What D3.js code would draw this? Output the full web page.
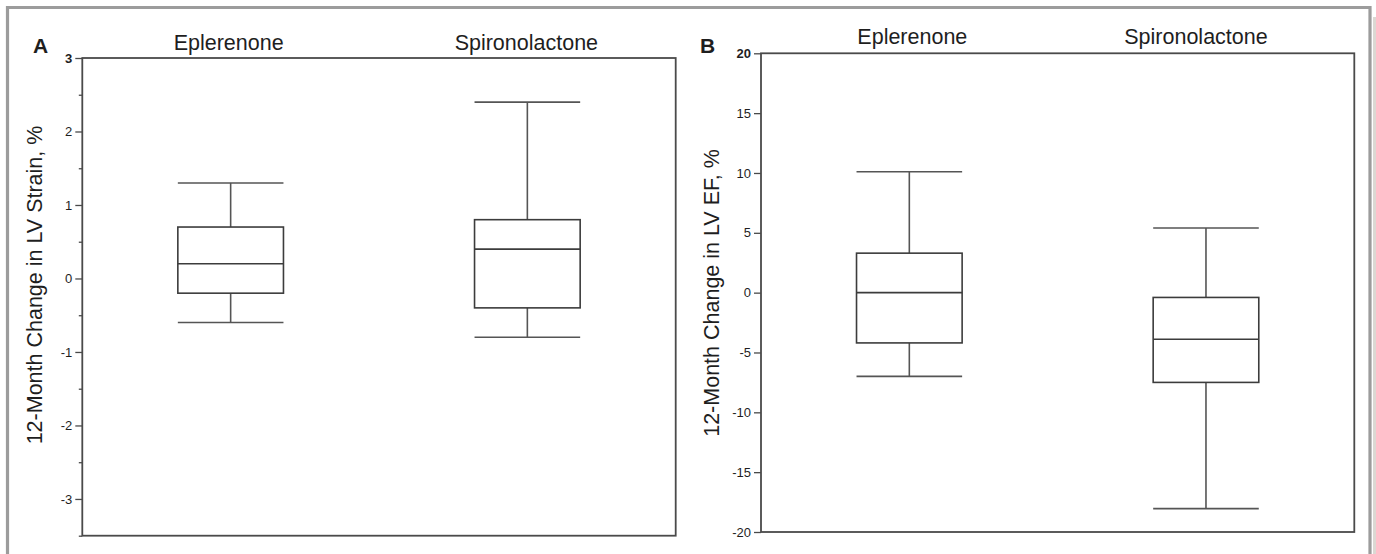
<!DOCTYPE html>
<html><head><meta charset="utf-8">
<script src="https://cdn.jsdelivr.net/npm/d3@7"></script>
<style>
body{margin:0;background:#fff;}
svg{display:block;font-family:"Liberation Sans",Arial,Helvetica,sans-serif;}
</style>
</head><body>
<svg id="c" width="1376" height="554"></svg>
<script>
// ---- data ----
const groups = ["Eplerenone", "Spironolactone"];

// Panel A: 12-month change in LV strain, %
const strainWhiskerLow  = [-0.6, -0.8];
const strainQ1          = [-0.2, -0.4];
const strainMedian      = [0.2, 0.4];
const strainQ3          = [0.7, 0.8];
const strainWhiskerHigh = [1.3, 2.4];
const strainTicks       = [3, 2, 1, 0, -1, -2, -3];
const strainMinorTicks  = [2.5, 1.5, 0.5, -0.5, -1.5, -2.5, -3.5];

// Panel B: 12-month change in LV EF, %
const efWhiskerLow  = [-7.0, -18.05];
const efQ1          = [-4.2, -7.5];
const efMedian      = [0.0, -3.9];
const efQ3          = [3.3, -0.4];
const efWhiskerHigh = [10.1, 5.4];
const efTicks       = [20, 15, 10, 5, 0, -5, -10, -15, -20];

// ---- drawing ----
const svg = d3.select("#c");

// outer frame
svg.append("rect").attr("x", 1373).attr("y", 17).attr("width", 4).attr("height", 540).attr("fill", "#dcd8d3");
svg.append("path").attr("d", "M7.5,556 V7.5 H1370 V556")
  .attr("fill", "none").attr("stroke", "#9c9c9c").attr("stroke-width", 3.2);

const panels = [
  {
    letter: "A", letterX: 33, letterY: 53,
    x0: 82.3, x1: 675.7, y0: 58, y1: 535.7, domain: [-3.5, 3],
    ticks: strainTicks, minor: strainMinorTicks, boldTick: 3,
    low: strainWhiskerLow, q1: strainQ1, med: strainMedian, q3: strainQ3, high: strainWhiskerHigh,
    ylabel: "12-Month Change in LV Strain, %", ylabelX: 42, ylabelY: 285,
    labelY: 50, labelDx: [-2, -1], tickPad: 3
  },
  {
    letter: "B", letterX: 700, letterY: 53,
    x0: 761, x1: 1354.3, y0: 53.3, y1: 532, domain: [-20, 20],
    ticks: efTicks, minor: [], boldTick: 20,
    low: efWhiskerLow, q1: efQ1, med: efMedian, q3: efQ3, high: efWhiskerHigh,
    ylabel: "12-Month Change in LV EF, %", ylabelX: 719, ylabelY: 293,
    labelY: 43.5, labelDx: [3, -10], tickPad: 3
  }
];

panels.forEach(p => {
  const x = d3.scaleBand().domain(groups).range([p.x0, p.x1]).padding(0);
  const y = d3.scaleLinear().domain(p.domain).range([p.y1, p.y0]);
  const g = svg.append("g");

  // minor ticks
  if (p.minor.length) {
    const gm = g.append("g").attr("transform", `translate(${p.x0},0)`)
      .call(d3.axisLeft(y).tickValues(p.minor).tickSize(3.5).tickFormat(""));
    gm.select(".domain").remove();
    gm.selectAll("line").attr("stroke", "#4a4a4a").attr("stroke-width", 1.3);
  }
  // major ticks
  const ga = g.append("g").attr("transform", `translate(${p.x0},0)`)
    .call(d3.axisLeft(y).tickValues(p.ticks).tickSize(7).tickPadding(p.tickPad).tickFormat(d => String(d)));
  ga.select(".domain").remove();
  ga.selectAll("line").attr("stroke", "#4a4a4a").attr("stroke-width", 1.3);
  ga.attr("font-size", 13).attr("font-family", '"Liberation Sans",Arial,sans-serif');
  ga.selectAll("text")
    .attr("font-size", 13).attr("fill", "#1e1e1e")
    .attr("font-weight", d => d === p.boldTick ? "bold" : "normal");

  // frame
  g.append("rect").attr("x", p.x0).attr("y", p.y0)
    .attr("width", p.x1 - p.x0).attr("height", p.y1 - p.y0)
    .attr("fill", "none").attr("stroke", "#4a4a4a").attr("stroke-width", 1.8);

  // boxes
  const bw = x.bandwidth() * 0.356;
  groups.forEach((grp, i) => {
    const cx = x(grp) + x.bandwidth() / 2;
    const bg = g.append("g").attr("stroke", "#3c3c3c").attr("fill", "none");
    // whiskers
    bg.append("line").attr("x1", cx).attr("x2", cx).attr("y1", y(p.high[i])).attr("y2", y(p.q3[i])).attr("stroke-width", 1.6).attr("stroke", "#555");
    bg.append("line").attr("x1", cx).attr("x2", cx).attr("y1", y(p.q1[i])).attr("y2", y(p.low[i])).attr("stroke-width", 1.6).attr("stroke", "#555");
    bg.append("line").attr("x1", cx - bw / 2).attr("x2", cx + bw / 2).attr("y1", y(p.high[i])).attr("y2", y(p.high[i])).attr("stroke-width", 1.6).attr("stroke", "#555");
    bg.append("line").attr("x1", cx - bw / 2).attr("x2", cx + bw / 2).attr("y1", y(p.low[i])).attr("y2", y(p.low[i])).attr("stroke-width", 1.6).attr("stroke", "#555");
    // box
    bg.append("rect").attr("x", cx - bw / 2).attr("y", y(p.q3[i]))
      .attr("width", bw).attr("height", y(p.q1[i]) - y(p.q3[i]))
      .attr("fill", "#fff").attr("stroke-width", 1.6);
    // median
    bg.append("line").attr("x1", cx - bw / 2).attr("x2", cx + bw / 2).attr("y1", y(p.med[i])).attr("y2", y(p.med[i])).attr("stroke-width", 1.6);

    // group label
    g.append("text").attr("x", cx + p.labelDx[i]).attr("y", p.labelY)
      .attr("text-anchor", "middle").attr("font-size", 21.5).attr("fill", "#1e1e1e").text(grp);
  });

  // panel letter
  g.append("text").attr("x", p.letterX).attr("y", p.letterY)
    .attr("font-size", 21).attr("font-weight", "bold").attr("fill", "#1e1e1e").text(p.letter);

  // y label
  g.append("text").attr("transform", `translate(${p.ylabelX},${p.ylabelY}) rotate(-90)`)
    .attr("text-anchor", "middle").attr("font-size", 21.5).attr("fill", "#1e1e1e").text(p.ylabel);
});
</script>
</body></html>
